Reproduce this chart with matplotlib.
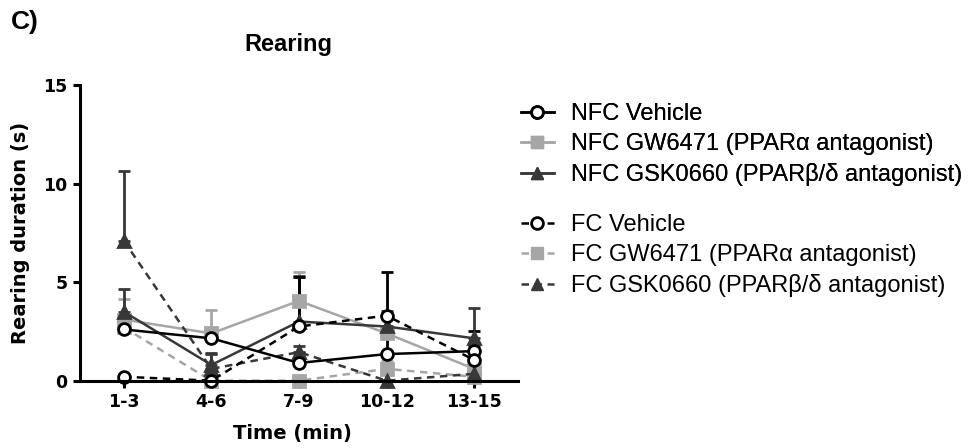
import matplotlib
matplotlib.use('Agg')
import matplotlib.pyplot as plt
from matplotlib.lines import Line2D
import numpy as np

plt.rcParams['font.family'] = ['Liberation Sans', 'DejaVu Sans']

times = ['1-3', '4-6', '7-9', '10-12', '13-15']

nfc_veh = [2.6, 2.15, 0.9, 1.35, 1.5]
nfc_veh_err = [0.4, 0.4, 0.5, 1.0, 0.3]
nfc_gw = [3.1, 2.4, 4.05, 2.4, 0.6]
nfc_gw_err = [1.05, 1.2, 1.45, 1.0, 0.4]
nfc_gsk = [3.5, 0.8, 3.0, 2.75, 2.15]
nfc_gsk_err = [1.15, 0.6, 2.3, 0.8, 1.55]

fc_veh = [0.2, 0.0, 2.75, 3.3, 1.05]
fc_veh_err = [0.1, 0.05, 2.5, 2.2, 1.47]
fc_gw = [2.7, 0.0, 0.0, 0.6, 0.2]
fc_gw_err = [0.3, 0.05, 0.05, 0.4, 0.1]
fc_gsk = [7.1, 0.6, 1.45, 0.0, 0.35]
fc_gsk_err = [3.55, 0.75, 0.3, 0.05, 0.2]

labels_nfc = ['NFC Vehicle', 'NFC GW6471 (PPAR\u03b1 antagonist)',
              'NFC GSK0660 (PPAR\u03b2/\u03b4 antagonist)']
labels_fc = ['FC Vehicle', 'FC GW6471 (PPAR\u03b1 antagonist)',
             'FC GSK0660 (PPAR\u03b2/\u03b4 antagonist)']

black, light, dark = '#000000', '#a6a6a6', '#383838'
dash = (0, (3, 2.2))
boldfont = ['DejaVu Sans']

fig = plt.figure(figsize=(9.7, 4.48), dpi=100)
ax = fig.add_axes([80/970, 1-380.7/448, 438/970, 295.7/448])
x = np.arange(len(times))

series = [
    (nfc_gw, nfc_gw_err, light, 's', '-', light),
    (fc_gw, fc_gw_err, light, 's', dash, light),
    (nfc_gsk, nfc_gsk_err, dark, '^', '-', dark),
    (fc_gsk, fc_gsk_err, dark, '^', dash, dark),
    (nfc_veh, nfc_veh_err, black, 'o', '-', 'white'),
    (fc_veh, fc_veh_err, black, 'o', dash, 'white'),
]
for vals, err, col, mk, ls, face in series:
    ax.errorbar(x, vals, yerr=[np.zeros(len(err)), err], color=col, ls=ls,
                lw=1.8, marker=mk, ms=8.5 if mk == 'o' else 8, mfc=face,
                mec=col, mew=2, ecolor=col, elinewidth=2, capsize=4.3,
                capthick=2.6, clip_on=False)

ax.set_xlim(-0.5, 4.5)
ax.set_ylim(0, 15)
ax.set_yticks([0, 5, 10, 15])
ax.set_xticks(x)
ax.set_xticklabels(times)
for s in ['top', 'right']:
    ax.spines[s].set_visible(False)
for s in ['left', 'bottom']:
    ax.spines[s].set_linewidth(2.2)
ax.tick_params(width=2.2, length=5, pad=4)
for lab in ax.get_xticklabels() + ax.get_yticklabels():
    lab.set_fontweight('bold')
    lab.set_family(boldfont)
    lab.set_fontsize(12.5)

ax.set_ylabel('Rearing duration (s)', fontsize=14, fontweight='bold', family=boldfont)
ax.yaxis.set_label_coords(-0.135, 0.5)
ax.yaxis.label.set_va('center')
ax.set_xlabel('Time (min)', fontsize=14, fontweight='bold', family=boldfont)
ax.xaxis.set_label_coords(0.486, -0.178)
ax.xaxis.label.set_va('center')

fig.text(288/970, 1-44/448, 'Rearing', fontsize=17, fontweight='bold',
         ha='center', va='center')
fig.text(11/970, 1-22/448, 'C)', fontsize=19, fontweight='bold',
         ha='left', va='center')

def handles(ls):
    return [Line2D([], [], color=black, ls=ls, lw=1.8, marker='o', ms=8.5,
                   mfc='white', mec=black, mew=2),
            Line2D([], [], color=light, ls=ls, lw=1.8, marker='s', ms=8,
                   mfc=light, mec=light),
            Line2D([], [], color=dark, ls=ls, lw=1.8, marker='^', ms=8,
                   mfc=dark, mec=dark)]

kw = dict(frameon=False, fontsize=17, handlelength=1.36, handletextpad=0.76,
          labelspacing=0.33, numpoints=1, loc='upper left', borderaxespad=0)
leg1 = fig.legend(handles('-'), labels_nfc, bbox_to_anchor=(512/970, 1-94/448), **kw)
fig.add_artist(leg1)
fig.legend(handles(dash), labels_fc, bbox_to_anchor=(512/970, 1-205/448), **kw)

fig.savefig('out.png', dpi=100)
